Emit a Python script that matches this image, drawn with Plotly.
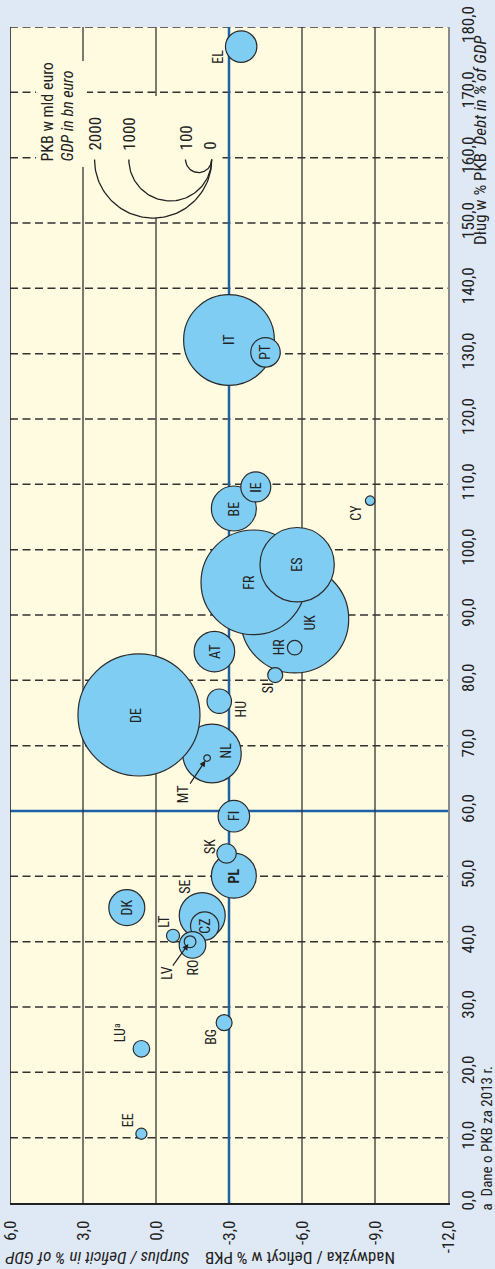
import numpy as np
import plotly.graph_objects as go

# ---------------- data ----------------
countries = ["UK", "FR", "ES", "IT", "NL", "DE", "PT", "BE", "IE", "AT", "HU", "HR", "SI", "MT",
             "FI", "PL", "SK", "DK", "SE", "CZ", "RO", "LV", "LT", "LU", "BG", "EE", "EL", "CY"]
deficit = [-5.7, -4.0, -5.8, -3.0, -2.3, 0.7, -4.5, -3.2, -4.1, -2.4, -2.6, -5.7, -4.9, -2.1,
           -3.2, -3.2, -2.9, 1.2, -1.9, -2.0, -1.5, -1.4, -0.7, 0.6, -2.8, 0.6, -3.5, -8.8]
debt = [89.4, 95.0, 97.7, 132.1, 68.8, 74.7, 130.2, 106.3, 109.6, 84.4, 76.8, 85.0, 80.8, 68.1,
        59.2, 50.1, 53.5, 45.2, 44.0, 42.4, 39.5, 40.0, 40.9, 23.6, 27.6, 10.6, 177.0, 107.5]
gdp = [1700, 1595, 805, 1200, 500, 2170, 127, 295, 131, 240, 87, 31, 33, 6.3,
       145, 295, 55, 189, 308, 117, 103, 20, 25, 40, 37, 18, 144, 13]

x_tickvals = [6, 3, 0, -3, -6, -9, -12]
x_ticktext = ["6,0", "3,0", "0,0", "-3,0", "-6,0", "-9,0", "-12,0"]
y_tickvals = list(range(0, 190, 10))
y_ticktext = [f"{v},0" for v in y_tickvals]

legend_values = [2000, 1000, 100, 0]

deficit_ref = -3.0
debt_ref = 60.0

# ---------------- layout constants ----------------
W, H = 495, 1269
L, R, T, B = 10, 47, 27, 66
PW, PH = W - L - R, H - T - B
XR = (6, -12)
YR = (0, 180)
K = 1.31  # px of radius per sqrt(bn euro)

PAPER = "#dfe9f5"
PLOT = "#fffbe1"
BUBBLE = "#7fcdf2"
EDGE = "#2b2b2b"
BLUE = "#1d62a8"
GRID = "#333333"
TXT = "#222222"
NARROW = "Liberation Sans Narrow, Roboto Condensed, Arial Narrow, Roboto, sans-serif"


def px2x(px):
    return XR[0] + (px - L) / PW * (XR[1] - XR[0])


def py2y(py):
    return YR[1] - (py - T) / PH * (YR[1] - YR[0])


def ppx(px):
    return (px - L) / PW


def ppy(py):
    return (T + PH - py) / PH


# label offsets in px (dx right, dy down) relative to bubble centre
label_offsets = {
    "EL": (-24, 10), "CY": (-14, 12), "UK": (15, 4), "HR": (-16, -1), "SI": (-7, 13),
    "HU": (22, 8), "NL": (14, -3), "FR": (-4, 0), "DE": (-3, 0), "SK": (-16, -7),
    "SE": (-18, -29), "LT": (-9, -14), "RO": (0, 23), "LU": (-22, -16), "BG": (-13, 14),
    "EE": (-14, -14),
}
arrow_labels = {"MT": (-24, 36), "LV": (-23, 32)}

fig = go.Figure()

# ---------------- grid lines as shapes ----------------
shapes = []
for v in y_tickvals[1:]:
    if v == debt_ref:
        shapes.append(dict(type="line", xref="x", yref="y", x0=XR[0], x1=XR[1], y0=v, y1=v,
                           line=dict(color=BLUE, width=2.5), layer="below"))
    else:
        shapes.append(dict(type="line", xref="x", yref="y", x0=XR[0], x1=XR[1], y0=v, y1=v,
                           line=dict(color=GRID, width=1.5, dash="8px,4.5px"), layer="below"))
for v in x_tickvals[1:-1]:
    if v == deficit_ref:
        shapes.append(dict(type="line", xref="x", yref="y", x0=v, x1=v, y0=YR[0], y1=YR[1],
                           line=dict(color=BLUE, width=2.5), layer="below"))
    else:
        shapes.append(dict(type="line", xref="x", yref="y", x0=v, x1=v, y0=YR[0], y1=YR[1],
                           line=dict(color=GRID, width=1.3), layer="below"))
# left border
shapes.append(dict(type="line", xref="x", yref="y", x0=XR[0], x1=XR[0], y0=YR[0], y1=YR[1],
                   line=dict(color=TXT, width=1.6), layer="below"))
# masks behind the size legend
shapes.append(dict(type="rect", xref="x", yref="y", x0=px2x(36), x1=px2x(87), y0=py2y(167), y1=py2y(61),
                   fillcolor=PLOT, line=dict(width=0), layer="below"))
shapes.append(dict(type="rect", xref="x", yref="y", x0=px2x(87), x1=px2x(221), y0=py2y(160), y1=py2y(96),
                   fillcolor=PLOT, line=dict(width=0), layer="below"))

# ---------------- size legend arcs ----------------
ax_px, ay_px = 211.7, 159.5
t = np.linspace(0, np.pi, 80)
rmax = K * np.sqrt(legend_values[0])
mx = ax_px - rmax + rmax * np.cos(t)
my = ay_px + rmax * np.sin(t)
fig.add_trace(go.Scatter(x=[px2x(v) for v in mx], y=[py2y(v) for v in my], mode="lines",
                         fill="toself", fillcolor=PLOT, line=dict(width=0), hoverinfo="skip"))
for val in legend_values[:-1]:
    r = K * np.sqrt(val)
    xs = ax_px - r + r * np.cos(t)
    ys = ay_px + r * np.sin(t)
    fig.add_trace(go.Scatter(x=[px2x(v) for v in xs], y=[py2y(v) for v in ys], mode="lines",
                             line=dict(color=TXT, width=1.3), hoverinfo="skip"))

# ---------------- bubbles ----------------
sizes = [2 * K * np.sqrt(g) for g in gdp]
fig.add_trace(go.Scatter(x=deficit, y=debt, mode="markers", text=countries,
                         marker=dict(size=sizes, sizemode="diameter", color=BUBBLE, opacity=1,
                                     line=dict(color=EDGE, width=1.2)),
                         hovertemplate="%{text}: %{x}, %{y}<extra></extra>"))

# ---------------- annotations ----------------
ann = []
for c, xv, yv in zip(countries, deficit, debt):
    txt = "<b>PL</b>" if c == "PL" else ("LU<sup>a</sup>" if c == "LU" else c)
    if c in arrow_labels:
        dx, dy = arrow_labels[c]
        ann.append(dict(x=xv, y=yv, xref="x", yref="y", text=txt, textangle=-90, showarrow=True,
                        ax=dx, ay=dy, arrowhead=2, arrowsize=1, arrowwidth=1.2, arrowcolor=TXT,
                        standoff=3, font=dict(family=NARROW, size=14, color=TXT)))
    else:
        dx, dy = label_offsets.get(c, (0, 0))
        ann.append(dict(x=xv, y=yv, xref="x", yref="y", text=txt, textangle=-90, showarrow=False,
                        xshift=dx, yshift=-dy, font=dict(family=NARROW, size=14, color=TXT)))

# legend texts
ann.append(dict(x=ppx(57), y=ppy(112.5), xref="paper", yref="paper", xanchor="center", yanchor="middle",
                text="PKB w mld euro<br><i>GDP in bn euro</i>", textangle=-90, align="left",
                showarrow=False, font=dict(family=NARROW, size=16, color=TXT)))
legend_label_mid = {2000: 134, 1000: 134, 100: 138, 0: 146}
for val in legend_values:
    r = K * np.sqrt(val)
    xc = ax_px - 2 * r if val > 0 else ax_px - 2
    ann.append(dict(x=ppx(xc), y=ppy(legend_label_mid[val]), xref="paper", yref="paper",
                    xanchor="center", yanchor="middle",
                    text=str(val), textangle=-90, showarrow=False,
                    font=dict(family=NARROW, size=17, color=TXT)))

# axis titles and footnote
ann.append(dict(x=ppx(480), y=ppy(140), xref="paper", yref="paper", xanchor="center", yanchor="middle",
                text="Dług w % PKB\u00a0\u00a0<i>Debt in % of GDP</i>", textangle=-90, showarrow=False,
                font=dict(family=NARROW, size=17, color=TXT)))
ann.append(dict(x=ppx(200.5), y=ppy(1258), xref="paper", yref="paper", xanchor="center", yanchor="middle",
                text="Nadwyżka / Deficyt w % PKB\u00a0\u00a0\u00a0\u00a0<i>Surplus / Deficit in % of GDP</i>",
                textangle=180, showarrow=False, font=dict(family=NARROW, size=17, color=TXT)))
ann.append(dict(x=ppx(486), y=ppy(1138.5), xref="paper", yref="paper", xanchor="center", yanchor="middle",
                text="a\u00a0\u00a0Dane o PKB za 2013 r.", textangle=-90, showarrow=False,
                font=dict(family=NARROW, size=15, color=TXT)))

fig.update_layout(
    width=W, height=H, autosize=False,
    margin=dict(l=L, r=R, t=T, b=B, pad=0, autoexpand=False),
    paper_bgcolor=PAPER, plot_bgcolor=PLOT,
    showlegend=False, separators=",.",
    shapes=shapes, annotations=ann,
    font=dict(family=NARROW, size=16, color=TXT),
    xaxis=dict(range=list(XR), tickvals=x_tickvals, ticktext=x_ticktext, tickangle=-90,
               showgrid=False, zeroline=False, showline=True, linecolor=TXT, linewidth=1.6,
               ticks="", ticklabelstandoff=9, ticklabeloverflow="allow",
               tickfont=dict(family=NARROW, size=17, color=TXT),
               automargin=False, fixedrange=True),
    yaxis=dict(range=list(YR), tickvals=y_tickvals, ticktext=y_ticktext, tickangle=-90, side="right",
               showgrid=False, zeroline=False, showline=True, linecolor="#8a8a8a", linewidth=2,
               ticks="", ticklabelstandoff=4, ticklabeloverflow="allow",
               tickfont=dict(family=NARROW, size=17, color=TXT),
               automargin=False, fixedrange=True),
)

fig.write_html("out.html", config={"displayModeBar": False},
               post_script="document.body.style.margin='0';document.body.style.padding='0';"
                           "document.body.style.overflow='hidden';")
